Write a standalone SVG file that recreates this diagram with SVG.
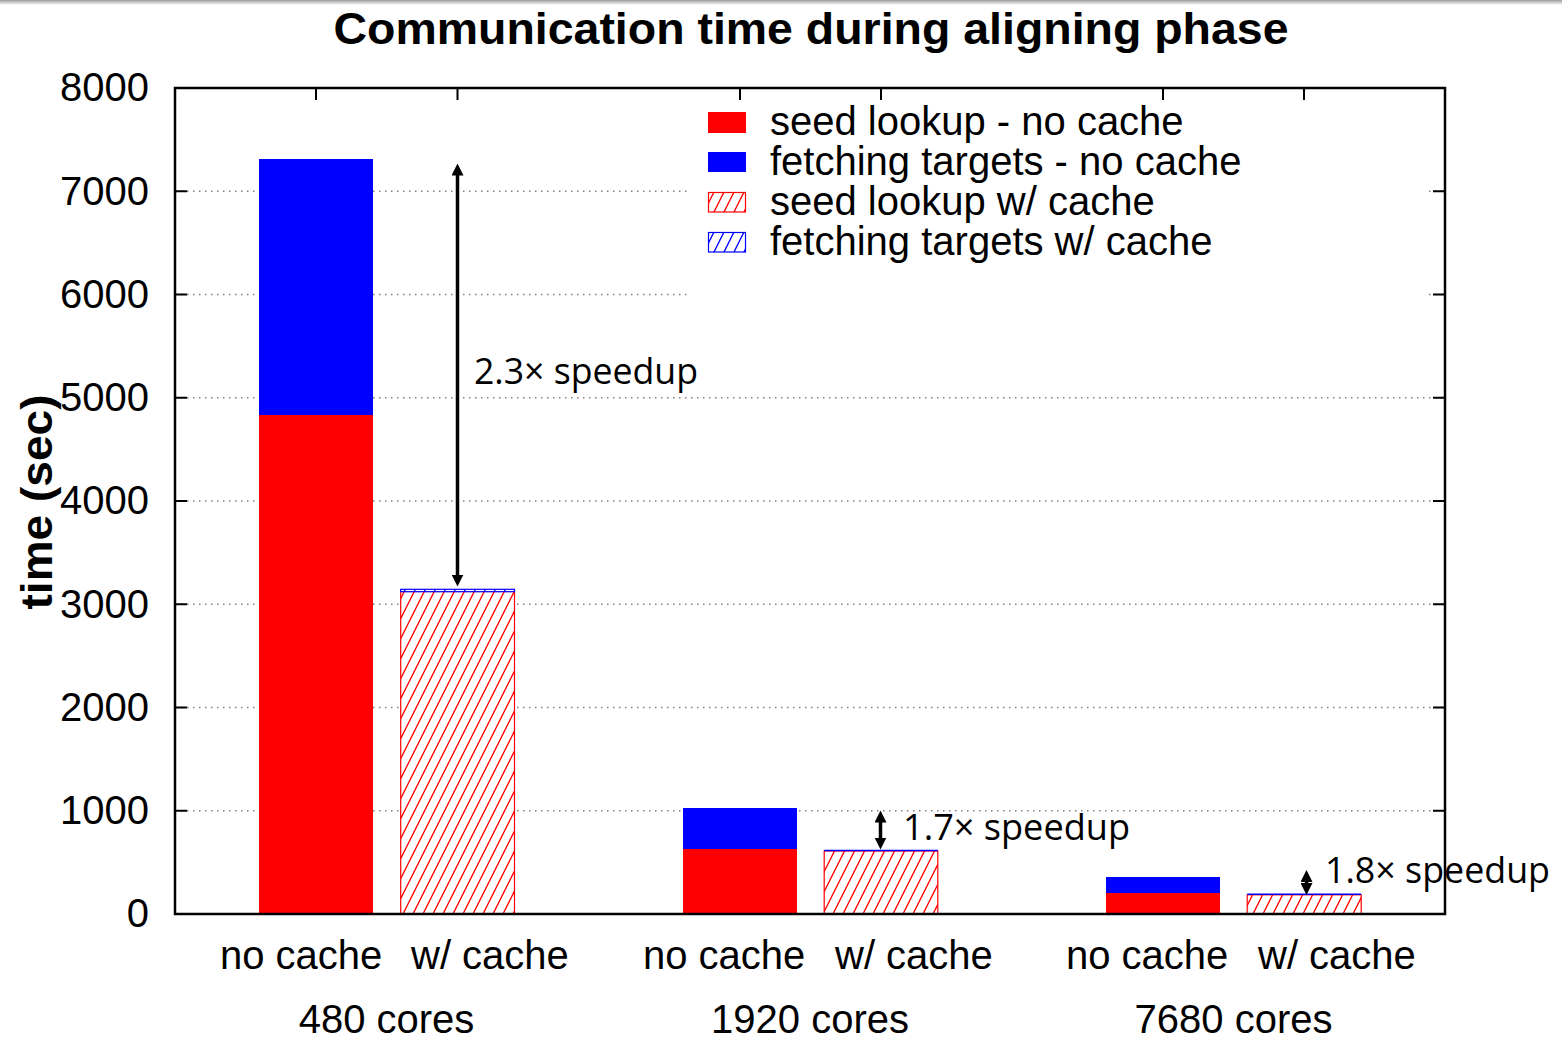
<svg xmlns="http://www.w3.org/2000/svg" width="1562" height="1041" viewBox="0 0 1562 1041">
<style>
  .lbl { font-family: "Liberation Sans", Arial, sans-serif; font-size: 40px; fill: #000; }
  .ytick { text-anchor: end; }
  .mid { text-anchor: middle; }
  .title { font-family: "Liberation Sans", Arial, sans-serif; font-size: 45px; font-weight: bold; text-anchor: middle; }
  .ylab { font-family: "Liberation Sans", Arial, sans-serif; font-size: 44px; font-weight: bold; text-anchor: middle; }
  .ann { font-family: "Open Sans", "Noto Sans", sans-serif; font-size: 36px; fill: #000; }
  .grid { stroke: #808080; stroke-width: 1.3; stroke-dasharray: 1.5 4.5; fill: none; }
  .tick { stroke: #000; stroke-width: 2; fill: none; }
  .frame { stroke: #000; stroke-width: 2.5; fill: none; }
  .red { fill: #ff0000; }
  .blue { fill: #0000ff; }
  .hred { fill: url(#hatchRed); stroke: #ff0000; stroke-width: 1.2; }
  .hblue { fill: url(#hatchBlue); stroke: #0000ff; stroke-width: 1.2; }
  .arrow { stroke: #000; stroke-width: 3.5; fill: none; marker-start: url(#ah); marker-end: url(#ah); }
</style>
<defs>
  <linearGradient id="topShade" x1="0" y1="0" x2="0" y2="1">
    <stop offset="0" stop-color="#9a9a9a"/>
    <stop offset="1" stop-color="#ffffff"/>
  </linearGradient>
  <pattern id="hatchRed" patternUnits="userSpaceOnUse" width="10" height="20">
    <rect width="10" height="20" fill="#fff"/>
    <path d="M0,20 L10,0 M-1,2 L1,-2 M9,22 L11,18" stroke="#ff0000" stroke-width="1.3"/>
  </pattern>
  <pattern id="hatchBlue" patternUnits="userSpaceOnUse" width="10" height="20">
    <rect width="10" height="20" fill="#fff"/>
    <path d="M0,20 L10,0 M-1,2 L1,-2 M9,22 L11,18" stroke="#0000ff" stroke-width="1.3"/>
  </pattern>
  <marker id="ah" viewBox="0 0 12 12" refX="0.5" refY="6" markerWidth="12" markerHeight="12" markerUnits="userSpaceOnUse" orient="auto-start-reverse">
    <path d="M0,0 L12,6 L0,12 z" fill="#000"/>
  </marker>
</defs>

<rect x="0" y="0" width="1562" height="1041" fill="#fff"/>
<rect x="0" y="0" width="1562" height="5" fill="url(#topShade)"/>

<text class="title" x="811" y="44" textLength="955" lengthAdjust="spacingAndGlyphs">Communication time during aligning phase</text>

<g id="grid">
  <line class="grid" x1="175" y1="191.25" x2="1445" y2="191.25"/>
  <line class="grid" x1="175" y1="294.5" x2="1445" y2="294.5"/>
  <line class="grid" x1="175" y1="397.75" x2="1445" y2="397.75"/>
  <line class="grid" x1="175" y1="501" x2="1445" y2="501"/>
  <line class="grid" x1="175" y1="604.25" x2="1445" y2="604.25"/>
  <line class="grid" x1="175" y1="707.5" x2="1445" y2="707.5"/>
  <line class="grid" x1="175" y1="810.75" x2="1445" y2="810.75"/>
</g>

<g id="yticks">
  <text class="lbl ytick" x="149" y="101">8000</text>
  <text class="lbl ytick" x="149" y="204.5">7000</text>
  <text class="lbl ytick" x="149" y="307.5">6000</text>
  <text class="lbl ytick" x="149" y="411">5000</text>
  <text class="lbl ytick" x="149" y="514">4000</text>
  <text class="lbl ytick" x="149" y="617.5">3000</text>
  <text class="lbl ytick" x="149" y="720.5">2000</text>
  <text class="lbl ytick" x="149" y="824">1000</text>
  <text class="lbl ytick" x="149" y="927">0</text>
</g>

<text class="ylab" transform="translate(52,502) rotate(-90)" x="0" y="0" textLength="215" lengthAdjust="spacingAndGlyphs">time (sec)</text>

<g id="xlabels">
  <text class="lbl" x="220" y="969">no cache</text>
  <text class="lbl" x="411" y="969">w/ cache</text>
  <text class="lbl mid" x="386.5" y="1033">480 cores</text>
  <text class="lbl" x="643" y="969">no cache</text>
  <text class="lbl" x="835" y="969">w/ cache</text>
  <text class="lbl mid" x="810" y="1033">1920 cores</text>
  <text class="lbl" x="1066" y="969">no cache</text>
  <text class="lbl" x="1258" y="969">w/ cache</text>
  <text class="lbl mid" x="1233.5" y="1033">7680 cores</text>
</g>

<g id="bars-480">
  <rect class="red" x="259" y="415" width="114" height="499"/>
  <rect class="blue" x="259" y="159" width="114" height="256"/>
  <rect class="hred" x="400.7" y="591.5" width="113.8" height="322.5"/>
  <rect class="hblue" x="400.7" y="589.3" width="113.8" height="2.4"/>
</g>
<g id="bars-1920">
  <rect class="red" x="683" y="849" width="114" height="65"/>
  <rect class="blue" x="683" y="808" width="114" height="41"/>
  <rect class="hred" x="824.2" y="851" width="113.6" height="63"/>
  <line x1="824.2" y1="850.4" x2="937.8" y2="850.4" stroke="#0000ff" stroke-width="1.5"/>
</g>
<g id="bars-7680">
  <rect class="red" x="1106" y="893" width="114" height="21"/>
  <rect class="blue" x="1106" y="877" width="114" height="16"/>
  <rect class="hred" x="1247.2" y="894.8" width="114" height="19.2"/>
  <line x1="1247.2" y1="894.2" x2="1361.2" y2="894.2" stroke="#0000ff" stroke-width="1.5"/>
</g>

<g id="legend">
  <rect x="688" y="101" width="737" height="198" fill="#fff"/>
  <rect class="red" x="708" y="112" width="38" height="21"/>
  <text class="lbl" x="770" y="135">seed lookup - no cache</text>
  <rect class="blue" x="708" y="152" width="38" height="20"/>
  <text class="lbl" x="770" y="175">fetching targets - no cache</text>
  <rect class="hred" x="708.5" y="192.5" width="37" height="19.5"/>
  <text class="lbl" x="770" y="215">seed lookup w/ cache</text>
  <rect class="hblue" x="708.5" y="232.5" width="37" height="19.5"/>
  <text class="lbl" x="770" y="255">fetching targets w/ cache</text>
</g>

<g id="annotations">
  <text class="ann" x="474" y="384" textLength="224" lengthAdjust="spacingAndGlyphs">2.3× speedup</text>
  <text class="ann" x="903" y="840" textLength="227" lengthAdjust="spacingAndGlyphs">1.7× speedup</text>
  <text class="ann" x="1325" y="883" textLength="225" lengthAdjust="spacingAndGlyphs">1.8× speedup</text>
</g>

<g id="connectors">
  <line class="arrow" x1="457.5" y1="175" x2="457.5" y2="575"/>
  <line class="arrow" x1="880.5" y1="822" x2="880.5" y2="838"/>
  <line class="arrow" x1="1306.5" y1="881.5" x2="1306.5" y2="883.5"/>
</g>

<g id="axes">
  <path class="tick" d="M175,191.25 h12 M175,294.5 h12 M175,397.75 h12 M175,501 h12 M175,604.25 h12 M175,707.5 h12 M175,810.75 h12"/>
  <path class="tick" d="M1445,191.25 h-12 M1445,294.5 h-12 M1445,397.75 h-12 M1445,501 h-12 M1445,604.25 h-12 M1445,707.5 h-12 M1445,810.75 h-12"/>
  <path class="tick" d="M316,88 v12 M457.5,88 v12 M740,88 v12 M881,88 v12 M1163,88 v12 M1304,88 v12"/>
  <rect class="frame" x="175" y="88" width="1270" height="826"/>
</g>
</svg>
